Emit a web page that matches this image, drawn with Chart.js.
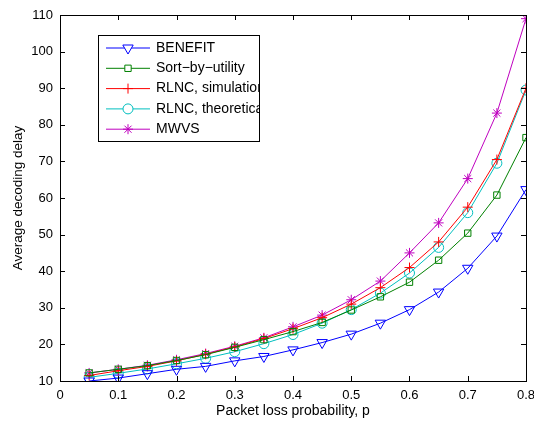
<!DOCTYPE html>
<html>
<head>
<meta charset="utf-8">
<script src="https://cdn.jsdelivr.net/npm/chart.js@4.4.0/dist/chart.umd.min.js"></script>
<style>
  html, body { margin: 0; padding: 0; background: #fff; }
  #wrap { width: 534px; height: 423px; }
</style>
</head>
<body>
<div id="wrap"><canvas id="c" width="534" height="423"></canvas></div>
<script>
// ── data ──
const lossProb = [0.05, 0.1, 0.15, 0.2, 0.25, 0.3, 0.35, 0.4, 0.45, 0.5, 0.55, 0.6, 0.65, 0.7, 0.75, 0.8];
const benefit = [10.0, 10.8, 12.0, 13.2, 14.0, 15.5, 16.7, 18.5, 20.5, 22.8, 25.8, 29.5, 34.3, 40.8, 49.6, 62.3];
const sortByUtility = [12.2, 13.2, 14.2, 15.6, 17.2, 19.2, 21.3, 23.5, 26.0, 29.4, 33.0, 37.0, 43.0, 50.4, 60.8, 76.5];
const rlncSim = [11.5, 12.8, 14.0, 15.5, 17.3, 19.3, 21.6, 24.3, 27.3, 31.0, 35.5, 41.0, 48.0, 57.5, 70.5, 90.0];
const rlncTheo = [11.0, 12.1, 13.3, 14.7, 16.2, 18.0, 20.2, 22.7, 25.8, 29.5, 34.0, 39.5, 46.5, 56.0, 69.5, 89.5];
const mwvs = [12.2, 13.2, 14.3, 15.8, 17.5, 19.5, 21.8, 24.8, 28.0, 32.2, 37.3, 45.0, 53.2, 65.3, 83.2, 109.0];
const xTicks = [0, 0.1, 0.2, 0.3, 0.4, 0.5, 0.6, 0.7, 0.8];
const yTicks = [10, 20, 30, 40, 50, 60, 70, 80, 90, 100, 110];

const FONT = 'Liberation Sans, Arial, Helvetica, sans-serif';

function series(label, values, color, style, radius, rotation) {
  return {
    label,
    data: lossProb.map((x, i) => ({ x, y: values[i] })),
    borderColor: color,
    backgroundColor: 'transparent',
    pointBorderColor: color,
    pointBackgroundColor: 'transparent',
    borderWidth: 1,
    pointBorderWidth: 1,
    pointStyle: style,
    pointRadius: radius,
    pointRotation: rotation || 0,
    tension: 0
  };
}

// MATLAB-style box with inward ticks + line/marker legend
const matlabFrame = {
  id: 'matlabFrame',
  afterDatasetsDraw(chart) {
    const { ctx, chartArea: a, scales } = chart;
    ctx.save();
    ctx.strokeStyle = '#000';
    ctx.lineWidth = 1;
    ctx.strokeRect(a.left + 0.5, a.top + 0.5, a.right - a.left, a.bottom - a.top);
    ctx.beginPath();
    xTicks.forEach(v => {
      const px = Math.round(scales.x.getPixelForValue(v)) + 0.5;
      ctx.moveTo(px, a.bottom); ctx.lineTo(px, a.bottom - 5);
      ctx.moveTo(px, a.top); ctx.lineTo(px, a.top + 5);
    });
    yTicks.forEach(v => {
      const py = Math.round(scales.y.getPixelForValue(v)) + 0.5;
      ctx.moveTo(a.left, py); ctx.lineTo(a.left + 5, py);
      ctx.moveTo(a.right, py); ctx.lineTo(a.right - 5, py);
    });
    ctx.stroke();

    // legend (text is clipped by the box, as in the original)
    const lx = 98, ly = 35, lw = 161, lh = 106;
    ctx.fillStyle = '#fff';
    ctx.fillRect(lx, ly, lw, lh);
    ctx.save();
    ctx.beginPath();
    ctx.rect(lx, ly, lw, lh);
    ctx.clip();
    ctx.font = '14px ' + FONT;
    ctx.textBaseline = 'middle';
    chart.data.datasets.forEach((ds, i) => {
      const y = ly + 13 + i * 20.3;
      ctx.strokeStyle = ds.borderColor;
      ctx.lineWidth = 1;
      ctx.beginPath();
      ctx.moveTo(lx + 8, y); ctx.lineTo(lx + 52, y);
      ctx.stroke();
      ctx.fillStyle = '#fff';
      ctx.strokeStyle = ds.borderColor;
      Chart.helpers.drawPoint(ctx, {
        pointStyle: ds.pointStyle, radius: ds.pointRadius, rotation: ds.pointRotation,
        borderWidth: 1
      }, lx + 30, y);
      ctx.fillStyle = '#000';
      ctx.fillText(ds.label, lx + 58, y);
    });
    ctx.restore();
    ctx.strokeStyle = '#000';
    ctx.strokeRect(lx + 0.5, ly + 0.5, lw, lh);
    ctx.restore();
  }
};

new Chart(document.getElementById('c'), {
  type: 'line',
  data: {
    datasets: [
      series('BENEFIT', benefit, '#0000ff', 'triangle', 6, 180),
      series('Sort\u2212by\u2212utility', sortByUtility, '#008000', 'rect', 4.5),
      series('RLNC, simulation', rlncSim, '#ff0000', 'cross', 5),
      series('RLNC, theoretical', rlncTheo, '#00bfbf', 'circle', 5),
      series('MWVS', mwvs, '#bf00bf', 'star', 5)
    ]
  },
  options: {
    responsive: false,
    animation: false,
    layout: { padding: { top: 15, right: 8, left: 0, bottom: 0 } },
    plugins: { legend: { display: false }, tooltip: { enabled: false } },
    scales: {
      x: {
        type: 'linear', min: 0, max: 0.8,
        afterBuildTicks: s => { s.ticks = xTicks.map(v => ({ value: v })); },
        afterFit: s => { s.height = 42; s.paddingLeft = 0; s.paddingRight = 0; },
        grid: { display: false, drawTicks: false },
        border: { display: false },
        ticks: { color: '#000', font: { family: FONT, size: 13 }, padding: 7, maxRotation: 0,
                 callback: v => v.toString() },
        title: { display: true, text: 'Packet loss probability, p', color: '#000',
                 font: { family: FONT, size: 14 }, padding: { top: 0, bottom: 3 } }
      },
      y: {
        type: 'linear', min: 10, max: 110,
        afterBuildTicks: s => { s.ticks = yTicks.map(v => ({ value: v })); },
        afterFit: s => { s.width = 60; s.paddingTop = 0; s.paddingBottom = 0; },
        grid: { display: false, drawTicks: false },
        border: { display: false },
        ticks: { color: '#000', font: { family: FONT, size: 13 }, padding: 7 },
        title: { display: true, text: 'Average decoding delay', color: '#000',
                 font: { family: FONT, size: 13.5 }, padding: { top: 10, bottom: 4 } }
      }
    }
  },
  plugins: [matlabFrame]
});
</script>
</body>
</html>
